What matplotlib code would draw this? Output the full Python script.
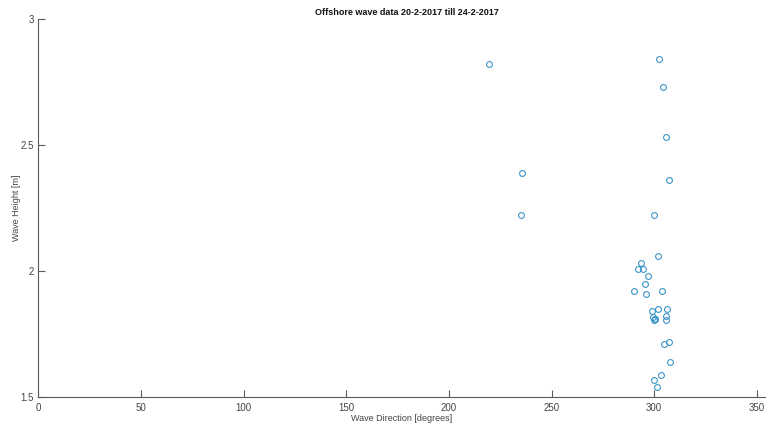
import matplotlib
matplotlib.use("Agg")
import matplotlib.pyplot as plt

plt.rcParams['font.family'] = ['Liberation Sans', 'DejaVu Sans']

direction = [219.5, 235.6, 235.1, 302.3, 304.3, 305.8, 307.2, 299.9, 301.6,
             293.7, 292.1, 294.7, 297.1, 295.4, 290.0, 296.2, 303.8,
             298.9, 301.7, 306.4, 299.5, 300.2, 300.6, 300.0, 305.7, 305.7,
             307.1, 304.8, 307.8, 303.3, 300.0, 301.5]
height = [2.821, 2.389, 2.222, 2.841, 2.730, 2.532, 2.361, 2.222, 2.061,
          2.030, 2.009, 2.009, 1.980, 1.950, 1.919, 1.910, 1.919,
          1.840, 1.849, 1.849, 1.819, 1.808, 1.810, 1.806, 1.821, 1.806,
          1.720, 1.709, 1.638, 1.589, 1.567, 1.538]

xticks = [0, 50, 100, 150, 200, 250, 300, 350]
yticks = [1.5, 2, 2.5, 3]
ytick_labels = ['1.5', '2', '2.5', '3']

fig = plt.figure(figsize=(7.66, 4.25), dpi=100)
ax = fig.add_axes([0.05, 0.066, 0.9488, 0.8895])

ax.plot(direction, height, linestyle='none', marker='o', markersize=4.2,
        markerfacecolor='none', markeredgecolor='#3b95c8', markeredgewidth=0.8)

ax.set_xlim(0, 354)
ax.set_ylim(1.5, 3)
ax.set_xticks(xticks)
ax.set_yticks(yticks)
ax.set_yticklabels(ytick_labels)

axcol = '#5a5a5a'
for s in ['top', 'right']:
    ax.spines[s].set_visible(False)
for s in ['left', 'bottom']:
    ax.spines[s].set_color(axcol)
    ax.spines[s].set_linewidth(0.8)
ax.tick_params(direction='in', length=5, width=0.8, colors=axcol,
               labelsize=7, labelcolor='#444444')
ax.tick_params(axis='x', pad=4)
ax.tick_params(axis='y', pad=3)

ax.set_xlabel('Wave Direction [degrees]', fontsize=6.5, color='#444444', labelpad=1)
ax.set_ylabel('Wave Height [m]', fontsize=6.5, color='#444444', labelpad=0)
ax.set_title('Offshore wave data 20-2-2017 till 24-2-2017', fontsize=6.5,
             fontweight='bold', color='#111111', pad=3, x=0.507)

fig.savefig('out.png', dpi=100)
